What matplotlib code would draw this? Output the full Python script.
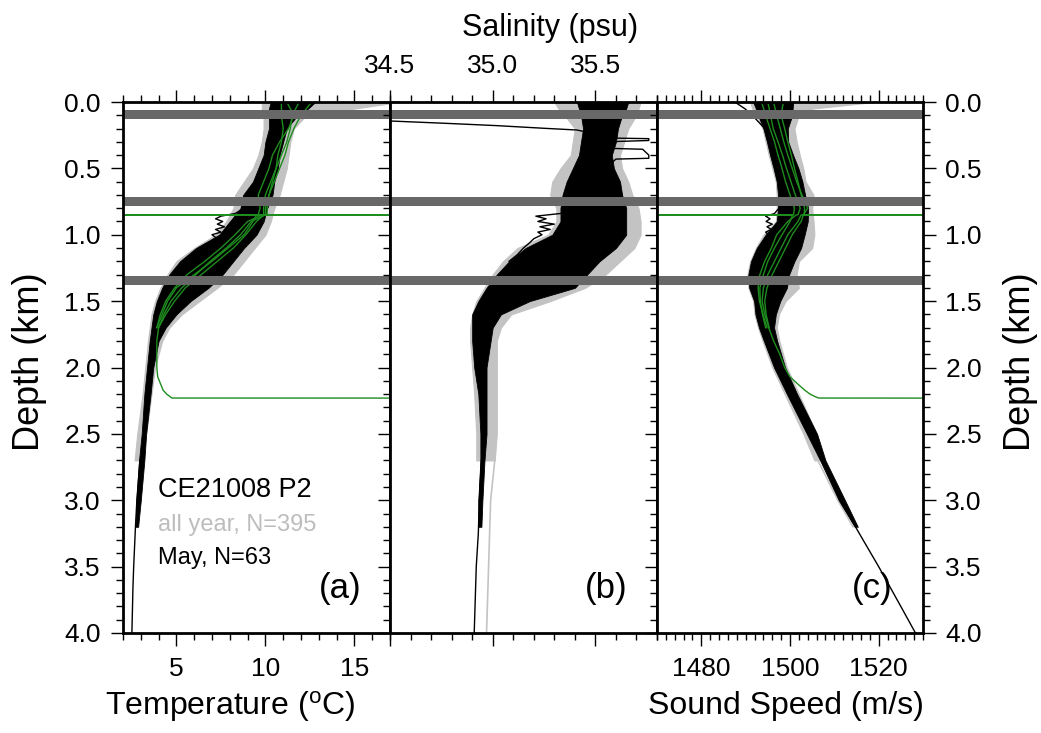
import matplotlib
matplotlib.use('Agg')
import matplotlib.pyplot as plt
from matplotlib.ticker import MultipleLocator, FixedLocator, FormatStrFormatter

plt.rcParams['font.family'] = ['Liberation Sans', 'DejaVu Sans']
plt.rcParams['mathtext.fontset'] = 'custom'
plt.rcParams['mathtext.rm'] = 'Liberation Sans'

# ---------------- data ----------------
# envelope depth grids (km)
depth_black = [0.0, 0.05, 0.1, 0.2, 0.3, 0.4, 0.5, 0.6, 0.7, 0.8, 0.9, 1.0, 1.1, 1.2, 1.3,
               1.4, 1.5, 1.6, 1.7, 1.8, 2.0, 2.2, 2.5, 2.7, 3.0, 3.2]
depth_gray = [0.0, 0.05, 0.1, 0.2, 0.3, 0.4, 0.5, 0.6, 0.7, 0.8, 0.9, 1.0, 1.1, 1.2, 1.3,
              1.4, 1.5, 1.6, 1.7, 1.8, 2.0, 2.2, 2.5, 2.7]

# Temperature (degC): May (black) and all-year (gray) envelopes
temp_may_lo = [10.3, 10.2, 10.2, 10.2, 10.0, 9.9, 9.6, 9.3, 8.75, 8.6, 8.0, 7.4, 6.1, 5.2, 4.6,
               4.2, 3.9, 3.7, 3.6, 3.5, 3.35, 3.2, 3.05, 2.9, 2.75, 2.7]
temp_may_hi = [12.8, 12.4, 11.8, 11.2, 11.0, 10.8, 10.7, 10.5, 10.4, 10.1, 9.9, 9.5, 8.8, 8.2, 7.6,
               6.8, 5.8, 5.0, 4.4, 4.0, 3.7, 3.55, 3.3, 3.2, 3.0, 2.85]
temp_all_lo = [9.8, 9.8, 9.9, 9.9, 9.8, 9.6, 9.3, 8.8, 8.3, 8.2, 7.8, 7.2, 6.0, 5.0, 4.5,
               4.1, 3.8, 3.6, 3.5, 3.4, 3.25, 3.1, 2.8, 2.65]
temp_all_hi = [17.5, 15.0, 12.3, 11.6, 11.4, 11.3, 11.2, 11.0, 10.8, 10.5, 10.3, 10.0, 9.4, 8.8, 8.2,
               7.3, 6.3, 5.3, 4.6, 4.2, 3.8, 3.6, 3.3, 3.1]

# Salinity (psu)
sal_may_lo = [35.41, 35.42, 35.43, 35.44, 35.43, 35.42, 35.39, 35.36, 35.34, 35.33, 35.33, 35.29, 35.16,
              35.08, 35.02, 34.97, 34.93, 34.90, 34.90, 34.90, 34.91, 34.93, 34.94, 34.94, 34.93, 34.93]
sal_may_hi = [35.66, 35.65, 35.63, 35.61, 35.60, 35.58, 35.59, 35.62, 35.63, 35.65, 35.65, 35.65, 35.60,
              35.52, 35.46, 35.40, 35.18, 35.04, 35.00, 34.99, 34.97, 34.97, 34.97, 34.96, 34.95, 34.945]
sal_all_lo = [35.30, 35.32, 35.35, 35.40, 35.39, 35.38, 35.33, 35.29, 35.28, 35.31, 35.31, 35.27, 35.12,
              35.05, 35.00, 34.96, 34.92, 34.90, 34.89, 34.89, 34.90, 34.91, 34.92, 34.92]
sal_all_hi = [35.72, 35.71, 35.70, 35.66, 35.64, 35.62, 35.63, 35.66, 35.68, 35.71, 35.72, 35.72, 35.69,
              35.62, 35.55, 35.45, 35.28, 35.09, 35.04, 35.02, 35.02, 35.02, 35.02, 35.01]

# Sound speed (m/s)
ss_may_lo = [1491.7, 1492.3, 1492.8, 1494.0, 1494.8, 1495.5, 1496.3, 1497.0, 1497.3, 1497.3, 1497.0,
             1494.5, 1492.5, 1491.2, 1490.6, 1490.8, 1491.9, 1492.2, 1493.0, 1494.1, 1496.4, 1499.3,
             1503.8, 1506.8, 1511.0, 1514.6]
ss_may_hi = [1500.7, 1500.6, 1500.5, 1499.5, 1499.6, 1500.7, 1501.9, 1502.8, 1503.4, 1504.1, 1504.0,
             1503.3, 1502.5, 1501.0, 1499.8, 1499.3, 1497.8, 1496.8, 1496.4, 1497.1, 1498.9, 1501.6,
             1506.1, 1508.0, 1512.4, 1515.3]
ss_all_lo = [1491.0, 1491.5, 1492.5, 1493.8, 1494.5, 1495.2, 1496.0, 1496.8, 1497.0, 1497.0, 1496.8,
             1494.0, 1492.3, 1491.0, 1490.4, 1490.6, 1491.7, 1492.0, 1492.8, 1493.8, 1496.0, 1498.8,
             1503.0, 1505.5]
ss_all_hi = [1519.0, 1505.0, 1502.0, 1501.0, 1501.5, 1502.2, 1503.0, 1503.5, 1505.3, 1505.0, 1505.3,
             1505.5, 1505.0, 1502.0, 1501.5, 1502.0, 1499.0, 1497.5, 1497.0, 1497.6, 1499.3, 1502.0,
             1506.0, 1507.5]

# single deep May profiles
deep_depth_t = [2.7, 3.0, 3.2, 3.5, 3.65, 4.0]
deep_temp = [2.95, 2.78, 2.7, 2.6, 2.56, 2.5]
deep_depth_s = [2.7, 3.0, 3.25, 3.5, 4.0]
deep_sal = [34.945, 34.935, 34.93, 34.92, 34.91]
deep_depth_c = [2.7, 3.0, 3.3, 3.5, 3.8, 4.0]
deep_ss = [1507.3, 1511.3, 1516.5, 1520.0, 1525.0, 1528.3]
# single deep all-year profiles
deep_all_depth_s = [2.7, 3.0, 3.5, 4.0]
deep_all_sal = [35.01, 34.99, 34.98, 34.97]
deep_all_depth_c = [2.7, 3.0, 3.2]
deep_all_ss = [1506.3, 1510.8, 1514.2]

# May outlier profiles (wiggly, mid-depth)
odd_depth = [0.8, 0.84, 0.86, 0.88, 0.9, 0.92, 0.94, 0.96, 0.98, 1.0, 1.03, 1.06, 1.1, 1.15, 1.2]
odd_temp = [8.8, 8.3, 7.5, 7.2, 7.6, 7.3, 7.7, 7.2, 7.5, 7.0, 7.3, 6.8, 6.5, 6.0, 5.6]
odd_sal = [35.38, 35.33, 35.21, 35.26, 35.22, 35.30, 35.23, 35.28, 35.22, 35.24, 35.20, 35.18, 35.15, 35.12, 35.08]
odd_ss = [1497.5, 1496.5, 1494.5, 1495.5, 1494.6, 1496.0, 1494.8, 1495.8, 1494.5, 1495.2, 1494.6, 1494.0, 1493.2, 1492.6, 1492.0]

# May low-salinity surface profile
fresh_depth_s = [0.0, 0.13, 0.143, 0.161, 0.178, 0.198, 0.211, 0.24, 0.272, 0.276, 0.29, 0.299,
                 0.349, 0.356, 0.40, 0.424, 0.43, 0.5, 0.6]
fresh_sal = [34.2, 34.2, 34.5, 34.777, 35.02, 35.25, 35.41, 35.5, 35.59, 35.76, 35.76, 35.57,
             35.57, 35.73, 35.76, 35.76, 35.6, 35.55, 35.5]
fresh_depth_c = [0.0, 0.01, 0.05, 0.1, 0.136, 0.2, 0.3]
fresh_ss = [1487.6, 1488.0, 1489.8, 1491.5, 1492.5, 1494.3, 1495.2]

# green profiles (temperature and sound speed), including spikes
g_depth = [0.0, 0.1, 0.2, 0.3, 0.4, 0.5, 0.6, 0.7, 0.8, 0.849, 0.85, 0.851, 0.9, 1.0, 1.1, 1.2,
           1.3, 1.4, 1.5, 1.6, 1.7]
g1_depth_tail = [1.8, 1.9, 2.0, 2.07, 2.12, 2.17, 2.2, 2.22, 2.23, 2.232]
g1_temp = [10.9, 10.9, 11.0, 10.9, 10.7, 10.6, 10.4, 10.2, 10.1, 10.1, 99.0, 10.0, 9.2, 8.6, 7.8,
           6.9, 6.1, 5.3, 4.7, 4.3, 4.0]
g1_temp_tail = [3.9, 3.9, 3.9, 3.95, 4.1, 4.25, 4.45, 4.65, 4.75, 99.0]
g2_temp = [11.9, 11.5, 11.4, 11.2, 10.9, 10.6, 10.3, 10.0, 9.9, 9.9, -99.0, 9.8, 9.0, 8.3, 7.5,
           6.6, 5.6, 4.9, 4.4, 4.1, 3.9]
g3_temp = [12.6, 12.0, 11.6, 11.3, 11.1, 10.8, 10.5, 10.2, 10.0, 10.0, 99.0, 9.9, 9.5, 8.9, 8.2,
           7.3, 6.4, 5.5, 4.9, 4.4, 4.0]
g4_temp = [11.2, 11.6, 11.3, 10.8, 10.4, 10.2, 9.9, 9.6, 9.7, 9.6, 9.6, 9.5, 9.3, 8.8, 7.9,
           7.0, 6.0, 5.0, 4.5, 4.2, 3.9]
g1_ss = [1496.3, 1497.0, 1497.8, 1498.6, 1499.5, 1500.5, 1501.5, 1502.7, 1504.0, 1503.0, 1600.0, 1502.5,
         1501.8, 1499.5, 1498.0, 1496.5, 1495.0, 1494.0, 1493.7, 1494.3, 1495.2]
g1_ss_tail = [1496.3, 1497.7, 1498.8, 1500.0, 1501.6, 1503.3, 1504.5, 1505.7, 1506.5, 1600.0]
g2_ss = [1493.6, 1494.5, 1495.5, 1496.5, 1497.3, 1498.2, 1499.0, 1500.0, 1501.0, 1500.8, 1400.0, 1500.6,
         1500.0, 1498.2, 1496.5, 1495.0, 1494.0, 1493.2, 1493.3, 1493.8, 1494.5]
g3_ss = [1498.5, 1498.0, 1498.8, 1499.5, 1500.3, 1501.0, 1501.8, 1502.5, 1503.3, 1503.2, 1600.0, 1503.0,
         1502.5, 1500.5, 1499.0, 1497.5, 1496.0, 1494.8, 1494.3, 1494.6, 1495.3]
g4_ss = [1495.0, 1495.6, 1496.2, 1497.3, 1498.3, 1499.2, 1500.2, 1501.2, 1502.3, 1501.8, 1501.6, 1501.4,
         1499.5, 1497.0, 1495.8, 1494.3, 1493.2, 1492.8, 1493.1, 1493.9, 1494.8]

# instrument depth bands (km)
bands = [(0.06, 0.13), (0.713, 0.781), (1.311, 1.381)]

# ---------------- figure ----------------
W, H = 1041, 733
fig = plt.figure(figsize=(W / 100, H / 100), dpi=100)


def rect(x0, x1, y0, y1):
    return [x0 / W, 1 - y1 / H, (x1 - x0) / W, (y1 - y0) / H]


axA = fig.add_axes(rect(123, 390, 102, 633))
axB = fig.add_axes(rect(390, 657, 102, 633))
axC = fig.add_axes(rect(657, 923, 102, 633))

GRAY = '#c3c3c3'
GREEN = '#1e8c1e'
BAND = '#686868'

panels = [
    (axA, temp_all_lo, temp_all_hi, temp_may_lo, temp_may_hi),
    (axB, sal_all_lo, sal_all_hi, sal_may_lo, sal_may_hi),
    (axC, ss_all_lo, ss_all_hi, ss_may_lo, ss_may_hi),
]
for ax, alo, ahi, mlo, mhi in panels:
    ax.fill_betweenx(depth_gray, alo, ahi, color=GRAY, lw=0.8, edgecolor=GRAY, zorder=1)
    ax.fill_betweenx(depth_black, mlo, mhi, color='black', lw=0.6, edgecolor='black', zorder=2)

# extra individual lines
axA.plot(deep_temp, deep_depth_t, color='black', lw=1.0, zorder=2)
axA.plot(odd_temp, odd_depth, color='black', lw=1.0, zorder=2)
axB.plot(deep_all_sal, deep_all_depth_s, color=GRAY, lw=1.2, zorder=1)
axB.plot(deep_sal, deep_depth_s, color='black', lw=1.0, zorder=2)
axB.plot(odd_sal, odd_depth, color='black', lw=1.0, zorder=2)
axB.plot(fresh_sal, fresh_depth_s, color='black', lw=1.0, zorder=2)
axC.plot(deep_all_ss, deep_all_depth_c, color=GRAY, lw=1.2, zorder=1)
axC.plot(deep_ss, deep_depth_c, color='black', lw=1.0, zorder=2)
axC.plot(odd_ss, odd_depth, color='black', lw=1.0, zorder=2)
axC.plot(fresh_ss, fresh_depth_c, color='black', lw=1.0, zorder=2)

for vals in (g2_temp, g3_temp, g4_temp):
    axA.plot(vals, g_depth, color=GREEN, lw=1.0, zorder=3)
axA.plot(g1_temp + g1_temp_tail, g_depth + g1_depth_tail, color=GREEN, lw=1.0, zorder=3)
for vals in (g2_ss, g3_ss, g4_ss):
    axC.plot(vals, g_depth, color=GREEN, lw=1.0, zorder=3)
axC.plot(g1_ss + g1_ss_tail, g_depth + g1_depth_tail, color=GREEN, lw=1.0, zorder=3)

for ax in (axA, axB, axC):
    for b0, b1 in bands:
        ax.axhspan(b0, b1, color=BAND, lw=0, zorder=5)
    ax.set_ylim(4.0, 0.0)
    ax.yaxis.set_major_locator(MultipleLocator(0.5))
    ax.yaxis.set_minor_locator(MultipleLocator(0.1))
    ax.yaxis.set_major_formatter(FormatStrFormatter('%.1f'))
    ax.tick_params(which='both', direction='out', top=True, bottom=True, left=True, right=True,
                   width=1.0, labelsize=19, labelleft=False, labelright=False,
                   labelbottom=False, labeltop=False)
    ax.tick_params(which='major', length=9, pad=7)
    ax.tick_params(axis='x', which='major', pad=8)
    ax.tick_params(which='minor', length=5)
    for s in ax.spines.values():
        s.set_linewidth(2.0)
        s.set_zorder(6)

axA.set_xlim(2, 17)
axA.xaxis.set_major_locator(FixedLocator([5, 10, 15]))
axA.xaxis.set_minor_locator(MultipleLocator(1))
axA.tick_params(labelleft=True, labelbottom=True)

axB.set_xlim(34.5, 35.8)
axB.xaxis.set_major_locator(FixedLocator([34.5, 35.0, 35.5]))
axB.xaxis.set_minor_locator(MultipleLocator(0.1))
axB.xaxis.set_major_formatter(FormatStrFormatter('%.1f'))
axB.tick_params(labeltop=True)

axC.set_xlim(1470, 1530)
axC.xaxis.set_major_locator(FixedLocator([1480, 1500, 1520]))
axC.xaxis.set_minor_locator(MultipleLocator(2))
axC.tick_params(labelright=True, labelbottom=True)

# axis titles
fig.text(230 / W, 1 - 706 / H, r'Temperature ($\mathregular{^o}$C)', fontsize=23, ha='center', va='center')
fig.text(786 / W, 1 - 706 / H, 'Sound Speed (m/s)', fontsize=23, ha='center', va='center')
fig.text(550 / W, 1 - 28 / H, 'Salinity (psu)', fontsize=22, ha='center', va='center')
fig.text(30 / W, 1 - 362 / H, 'Depth (km)', fontsize=26, ha='center', va='center', rotation=90)
fig.text(1020 / W, 1 - 362 / H, 'Depth (km)', fontsize=26, ha='center', va='center', rotation=90)

# annotations
axA.text(0.131, 1 - (490 - 102) / 531, 'CE21008 P2', transform=axA.transAxes, fontsize=19.5,
         ha='left', va='center', zorder=7)
axA.text(0.131, 1 - (525 - 102) / 531, 'all year, N=395', transform=axA.transAxes, fontsize=17,
         color='#bdbdbd', ha='left', va='center', zorder=7)
axA.text(0.131, 1 - (558 - 102) / 531, 'May, N=63', transform=axA.transAxes, fontsize=17,
         ha='left', va='center', zorder=7)
for ax, lab, xr in ((axA, '(a)', 0.895), (axB, '(b)', 0.891), (axC, '(c)', 0.887)):
    ax.text(xr, 0.083, lab, transform=ax.transAxes, fontsize=25, ha='right', va='center', zorder=7)

fig.savefig('out.png', dpi=100)
